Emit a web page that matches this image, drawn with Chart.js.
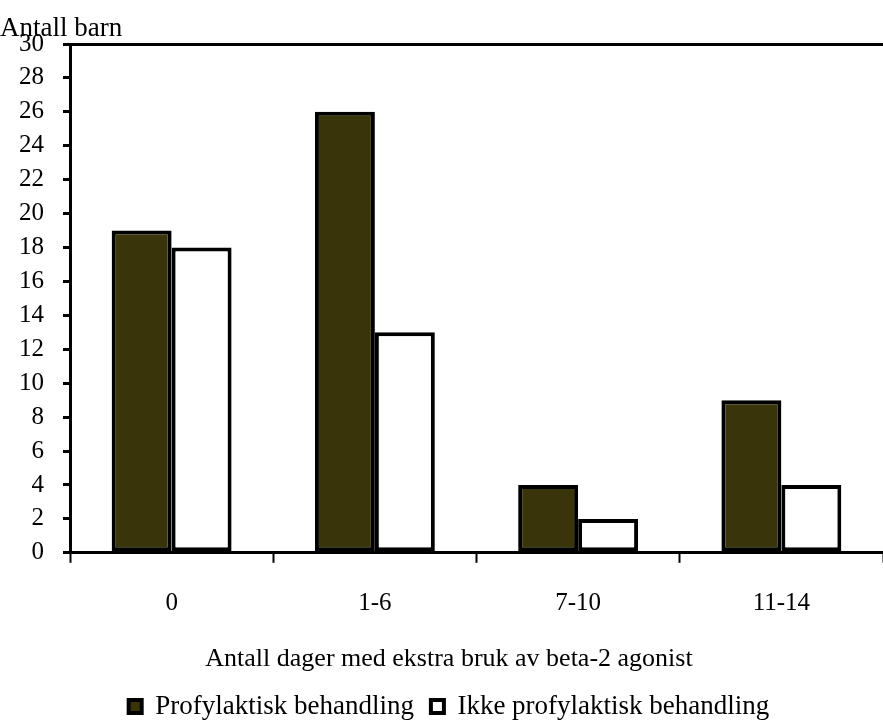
<!DOCTYPE html>
<html>
<head>
<meta charset="utf-8">
<script src="https://cdn.jsdelivr.net/npm/chart.js@4.4.1/dist/chart.umd.min.js"></script>
<style>
  html, body { margin: 0; padding: 0; background: #fff; overflow: hidden; }
  #wrap { width: 883px; height: 722px; }
</style>
</head>
<body>
<div id="wrap"><canvas id="chartBarn" width="883" height="722"></canvas></div>
<script>
const kategorier = ['0', '1-6', '7-10', '11-14'];
const profylaktisk = [19, 26, 4, 9];
const ikkeProfylaktisk = [18, 13, 2, 4];
const yTicks = [0, 2, 4, 6, 8, 10, 12, 14, 16, 18, 20, 22, 24, 26, 28, 30];

const serif = 'Liberation Serif';

const dataBarn = {
  labels: kategorier,
  datasets: [{
    label: 'Profylaktisk behandling',
    data: profylaktisk,
    backgroundColor: '#3a340a',
    borderColor: '#000',
    borderWidth: 4,
    borderSkipped: false,
    categoryPercentage: 0.59,
    barPercentage: 1
  }, {
    label: 'Ikke profylaktisk behandling',
    data: ikkeProfylaktisk,
    backgroundColor: '#fff',
    borderColor: '#000',
    borderWidth: 4,
    borderSkipped: false,
    categoryPercentage: 0.59,
    barPercentage: 1
  }]
}

const optionsBarn = {
  responsive: false,
  animation: false,
  layout: {
    // the x axis runs a little past the right edge in the original
    padding: { left: 0, right: -15, top: 0, bottom: -8 }
  },
  scales: {
    x: {
      grid: {
        offset: true,
        drawOnChartArea: false,
        tickLength: 10,
        tickColor: '#000',
        tickWidth: 2
      },
      border: { color: '#000', width: 3 },
      ticks: {
        color: '#000',
        padding: 26,
        font: { family: serif, size: 25 }
      }
    },
    y: {
      min: 0,
      max: 30,
      afterBuildTicks: (scale) => {
        scale.ticks = yTicks.map(v => ({ value: v }))
      },
      afterFit: (scale) => {
        scale.width = 70
      },
      grid: {
        drawOnChartArea: true,
        color: (ctx) => (ctx.tick && ctx.tick.value === 30) ? '#000' : 'rgba(0,0,0,0)',
        lineWidth: 3,
        tickColor: '#000',
        tickWidth: 3,
        tickLength: 7
      },
      border: { color: '#000', width: 3 },
      ticks: {
        color: '#000',
        padding: 19,
        autoSkip: false,
        font: { family: serif, size: 25 }
      }
    }
  },
  plugins: {
    title: {
      display: true,
      text: 'Antall barn',
      align: 'start',
      color: '#000',
      font: { family: serif, size: 27, weight: 'normal', lineHeight: 1 },
      padding: { top: 15, bottom: 2 }
    },
    subtitle: {
      display: true,
      position: 'bottom',
      text: 'Antall dager med ekstra bruk av beta-2 agonist',
      color: '#000',
      font: { family: serif, size: 26 },
      padding: { top: -1, bottom: 1 }
    },
    legend: {
      position: 'bottom',
      weight: 3000,
      labels: {
        color: '#000',
        boxWidth: 13,
        boxHeight: 13,
        padding: 17,
        font: { family: serif, size: 27 }
      }
    },
    tooltip: { enabled: false }
  }
}

const ctxBarn = document.getElementById('chartBarn');

new Chart(ctxBarn, {
  type: 'bar',
  data: dataBarn,
  options: optionsBarn
})
</script>
</body>
</html>
